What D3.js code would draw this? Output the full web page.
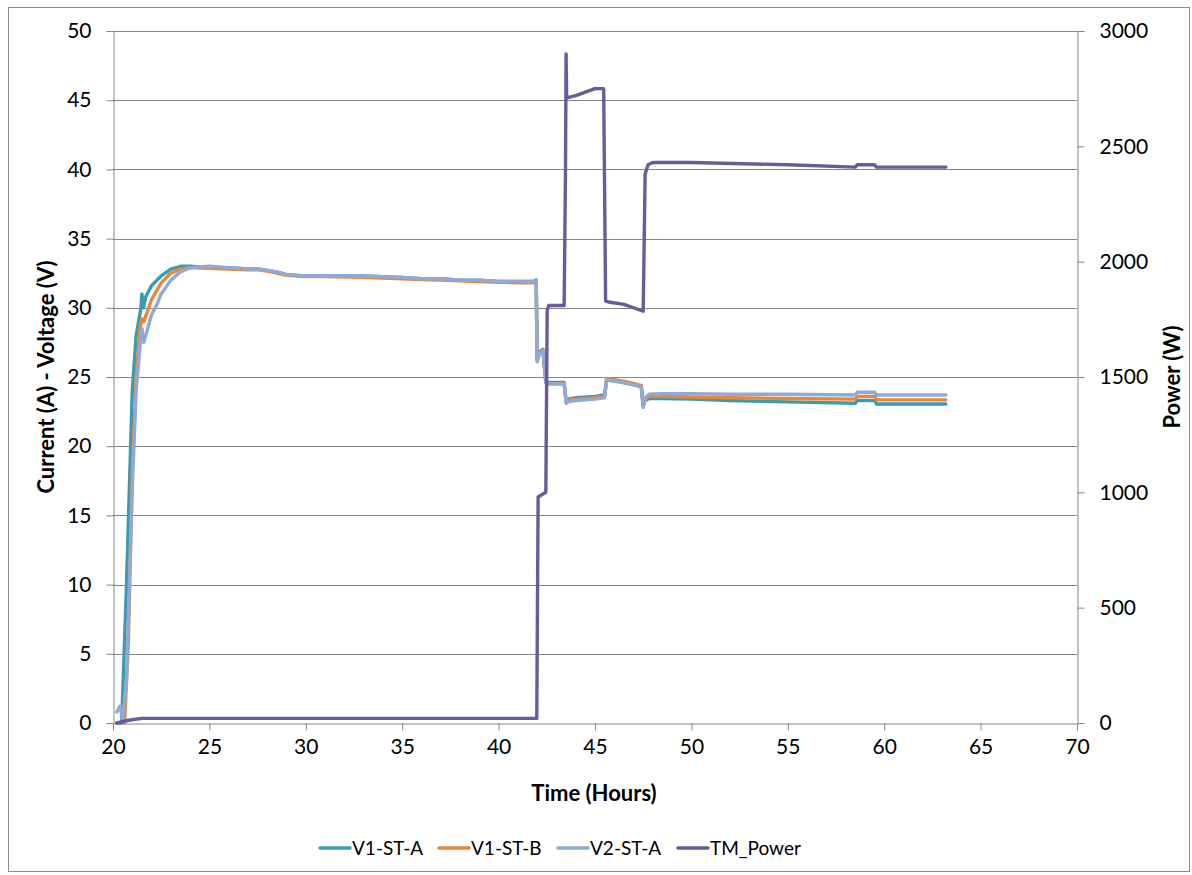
<!DOCTYPE html>
<html><head><meta charset="utf-8">
<script src="https://cdn.jsdelivr.net/npm/d3@7"></script>
<style>body{margin:0;background:#fff}svg{display:block}</style>
</head><body><svg id="c" width="1192" height="875"></svg>
<script>
const xTicks = [20,25,30,35,40,45,50,55,60,65,70];
const yTicks = [0,5,10,15,20,25,30,35,40,45,50];
const y2Ticks = [0,500,1000,1500,2000,2500,3000];
const seriesNames = ["V1-ST-A","V1-ST-B","V2-ST-A","TM_Power"];
const seriesColors = ["#3b9bb0","#e8863a","#91a9d6","#6c5a9a"];

const v1aT = [20.2,20.45,20.7,21.0,21.2,21.45,21.5,21.58,21.7,22.0,22.5,23.0,23.5,24.0,25,26,27,27.5,28,28.5,29,30,31,33,35,36,37,38,39,40,41,41.8,41.95,42.0,42.1,42.3,42.45,42.5,43.4,43.5,43.6,44,45,45.5,45.6,46.5,47.4,47.5,47.6,47.8,48.5,50,52,55,58.5,58.6,59.5,59.6,62,63.2];
const v1aV = [0,0,10,24,28,30,31,30,30.8,31.6,32.3,32.8,33.0,33.0,32.9,32.9,32.8,32.8,32.7,32.6,32.4,32.3,32.3,32.3,32.2,32.1,32.1,32.0,32.0,31.9,31.9,31.9,32.0,26.3,26.8,27.0,24.7,24.6,24.6,23.3,23.4,23.5,23.6,23.7,24.8,24.6,24.3,22.9,23.3,23.45,23.45,23.4,23.3,23.2,23.1,23.3,23.3,23.05,23.05,23.05];

const v1bT = [20.6,20.8,21.0,21.2,21.4,21.5,21.6,21.8,22.0,22.5,23.0,23.5,24.0,25,26,27,27.5,28,28.5,29,30,31,33,35,36,37,38,39,40,41,41.8,41.95,42.0,42.1,42.3,42.45,42.5,43.4,43.5,43.6,44,45,45.5,45.6,46.5,47.4,47.5,47.6,47.8,48.5,50,52,55,58.5,58.6,59.5,59.6,62,63.2];
const v1bV = [0,6,18,25,28.5,29.2,29.0,29.8,30.6,31.8,32.5,32.8,32.9,32.85,32.8,32.75,32.75,32.65,32.5,32.35,32.25,32.25,32.2,32.1,32.05,32.0,31.95,31.9,31.85,31.8,31.8,31.9,26.2,26.7,26.9,24.6,24.5,24.5,23.2,23.3,23.4,23.5,23.6,24.9,24.7,24.4,22.9,23.4,23.6,23.6,23.55,23.5,23.45,23.4,23.6,23.6,23.35,23.35,23.35];

const v2aT = [20.2,20.35,20.5,20.7,21.0,21.2,21.45,21.5,21.6,21.8,22.0,22.3,22.5,23.0,23.5,24.0,25,26,27,27.5,28,28.5,29,30,31,33,35,36,37,38,39,40,41,41.8,41.95,42.0,42.1,42.3,42.45,42.5,43.4,43.5,43.6,44,45,45.5,45.6,46.5,47.4,47.5,47.6,47.8,48.5,50,52,55,58.5,58.6,59.5,59.6,62,63.2];
const v2aV = [0.8,1.2,0.3,3,17,24,28,28.5,27.5,28.5,29.5,30.3,31,32,32.6,32.9,33.0,32.9,32.8,32.8,32.7,32.6,32.4,32.3,32.3,32.3,32.2,32.1,32.1,32.0,32.0,31.9,31.9,31.9,32.0,26.1,26.6,26.9,24.6,24.5,24.5,23.1,23.2,23.3,23.4,23.5,24.8,24.6,24.3,22.8,23.5,23.75,23.8,23.8,23.75,23.75,23.7,23.9,23.9,23.7,23.7,23.7];

const pwrT = [20.2,20.8,21.5,25,30,35,40,41.98,42.05,42.45,42.52,42.6,43.4,43.47,43.5,43.53,44,45,45.45,45.55,45.7,46.5,47.5,47.6,47.75,48,50,55,58.5,58.6,59.5,59.6,63.2];
const pwrV = [0,12,20,20,20,20,20,20,980,1000,1790,1810,1810,2400,2900,2710,2720,2750,2750,1830,1825,1815,1785,2380,2420,2430,2430,2420,2410,2420,2420,2410,2410];

const svg = d3.select("#c");
const L=113, R=1077, T=31, B=723;
const x = d3.scaleLinear().domain([20,70]).range([L,R]);
const y = d3.scaleLinear().domain([0,50]).range([B,T]);
const y2 = d3.scaleLinear().domain([0,3000]).range([B,T]);
const font = "Lato, 'Open Sans', sans-serif";
const axisCol = "#868686";

svg.append("rect").attr("x",8.5).attr("y",7.5).attr("width",1181).attr("height",864)
  .attr("fill","#fff").attr("stroke","#8c8c8c").attr("stroke-width",1);

// gridlines
svg.append("g").selectAll("line").data(yTicks.slice(1)).join("line")
  .attr("x1",L).attr("x2",R).attr("y1",d=>Math.round(y(d))+0.5).attr("y2",d=>Math.round(y(d))+0.5)
  .attr("stroke",axisCol).attr("stroke-width",1);

// axes
const gx = svg.append("g").attr("transform",`translate(0,${B+0.5})`)
  .call(d3.axisBottom(x).tickValues(xTicks).tickSize(7).tickPadding(9).tickFormat(d3.format("d")));
const gy = svg.append("g").attr("transform",`translate(${L+0.5},0)`)
  .call(d3.axisLeft(y).tickValues(yTicks).tickSize(7).tickPadding(15).tickFormat(d3.format("d")));
const gy2 = svg.append("g").attr("transform",`translate(${R+0.5},0)`)
  .call(d3.axisRight(y2).tickValues(y2Ticks).tickSize(7).tickPadding(15).tickFormat(d3.format("d")));
[gx,gy,gy2].forEach(g=>{
  g.select(".domain").attr("stroke",axisCol);
  g.selectAll(".tick line").attr("stroke",axisCol);
  g.selectAll("text").attr("font-family",font).attr("font-size",21).attr("fill","#000");
});

const series = [
  {t:v1aT, v:v1aV, s:y, c:seriesColors[0]},
  {t:v1bT, v:v1bV, s:y, c:seriesColors[1]},
  {t:v2aT, v:v2aV, s:y, c:seriesColors[2]},
  {t:pwrT, v:pwrV, s:y2, c:seriesColors[3]}
];
series.forEach(sr=>{
  const line = d3.line().x(d=>x(d[0])).y(d=>sr.s(d[1]));
  svg.append("path").datum(d3.zip(sr.t, sr.v)).attr("d",line)
    .attr("fill","none").attr("stroke",sr.c).attr("stroke-width",3.4)
    .attr("stroke-linejoin","round").attr("stroke-linecap","round");
});

// titles
svg.append("text").attr("x",594).attr("y",801).attr("text-anchor","middle")
  .attr("font-family",font).attr("font-weight","bold").attr("font-size",22).text("Time (Hours)");
svg.append("text").attr("transform","translate(54,377) rotate(-90)").attr("text-anchor","middle")
  .attr("font-family",font).attr("font-weight","bold").attr("font-size",22).text("Current (A) - Voltage (V)");
svg.append("text").attr("transform","translate(1180,377) rotate(-90)").attr("text-anchor","middle")
  .attr("font-family",font).attr("font-weight","bold").attr("font-size",22).text("Power (W)");

// legend
const legX = [320,439,558,678];
const lg = svg.append("g").selectAll("g").data(seriesNames).join("g")
  .attr("transform",(d,i)=>`translate(${legX[i]},848)`);
lg.append("line").attr("x1",0).attr("x2",30).attr("y1",0).attr("y2",0)
  .attr("stroke",(d,i)=>seriesColors[i]).attr("stroke-width",3.4).attr("stroke-linecap","round");
lg.append("text").attr("x",32).attr("y",7).attr("font-family",font).attr("font-size",19).text(d=>d);
</script></body></html>
